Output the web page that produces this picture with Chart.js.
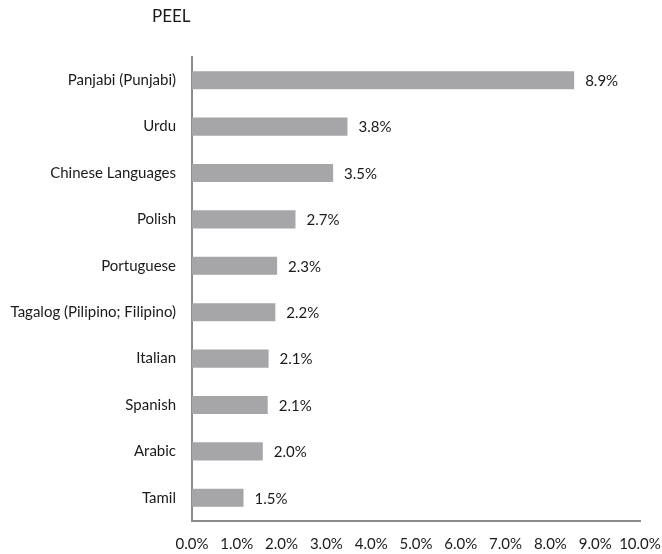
<!DOCTYPE html>
<html>
<head>
<meta charset="utf-8">
<script src="https://cdn.jsdelivr.net/npm/chart.js@4"></script>
<style>
html,body{margin:0;padding:0;background:#fff;}
#wrap{width:662px;height:554px;position:relative;}
</style>
</head>
<body>
<div id="wrap"><canvas id="c" width="662" height="554"></canvas></div>
<script>
const chartTitle = "PEEL";
const categories = ["Panjabi (Punjabi)", "Urdu", "Chinese Languages", "Polish", "Portuguese", "Tagalog (Pilipino; Filipino)", "Italian", "Spanish", "Arabic", "Tamil"];
// bar lengths as read against the x axis
const barValues = [8.53, 3.47, 3.15, 2.31, 1.90, 1.86, 1.71, 1.69, 1.58, 1.15];
// value labels as printed next to each bar
const valueLabels = ["8.9%", "3.8%", "3.5%", "2.7%", "2.3%", "2.2%", "2.1%", "2.1%", "2.0%", "1.5%"];
const xTicks = [0, 1, 2, 3, 4, 5, 6, 7, 8, 9, 10];

const FONT = "Lato, 'Open Sans', sans-serif";

const labelPlugin = {
  id: 'valueLabels',
  afterDatasetsDraw(chart) {
    const ctx = chart.ctx;
    const meta = chart.getDatasetMeta(0);
    ctx.save();
    ctx.font = "15px " + FONT;
    ctx.fillStyle = "#1a1a1a";
    ctx.textAlign = "left";
    ctx.textBaseline = "middle";
    meta.data.forEach((bar, i) => {
      ctx.fillText(valueLabels[i], bar.x + 11, bar.y + 1);
    });
    ctx.restore();
  }
};

const titlePlugin = {
  id: 'customTitle',
  afterDraw(chart) {
    const ctx = chart.ctx;
    ctx.save();
    ctx.font = "17px " + FONT;
    ctx.fillStyle = "#1a1a1a";
    ctx.textAlign = "left";
    ctx.textBaseline = "middle";
    ctx.fillText(chartTitle, 152, 17);
    ctx.restore();
  }
};

new Chart(document.getElementById('c'), {
  type: 'bar',
  data: {
    labels: categories,
    datasets: [{
      data: barValues,
      backgroundColor: '#a6a6a9',
      borderWidth: 0,
      categoryPercentage: 1.0,
      barPercentage: 0.39
    }]
  },
  options: {
    indexAxis: 'y',
    responsive: false,
    animation: false,
    devicePixelRatio: 1,
    layout: { padding: { top: 57, right: 22, bottom: 0, left: 0 } },
    plugins: { legend: { display: false }, title: { display: false }, tooltip: { enabled: false } },
    scales: {
      x: {
        min: xTicks[0],
        max: xTicks[xTicks.length - 1],
        afterBuildTicks(scale) { scale.ticks = xTicks.map(v => ({ value: v })); },
        afterFit(scale) { scale.height = 33; scale.paddingRight = 0; scale.paddingLeft = 0; },
        grid: { display: false, drawTicks: false },
        border: { display: true, color: '#8a8a8a', width: 2 },
        ticks: {
          padding: 14,
          color: '#1a1a1a',
          font: { family: FONT, size: 15 },
          maxRotation: 0,
          autoSkip: false,
          callback: (v) => Number(v).toFixed(1) + '%'
        }
      },
      y: {
        afterFit(scale) { scale.width = 192; },
        grid: { display: false, drawTicks: false },
        border: { display: true, color: '#8a8a8a', width: 2 },
        ticks: {
          padding: 16,
          color: '#1a1a1a',
          font: { family: FONT, size: 15 },
          autoSkip: false
        }
      }
    }
  },
  plugins: [labelPlugin, titlePlugin]
});
</script>
</body>
</html>
